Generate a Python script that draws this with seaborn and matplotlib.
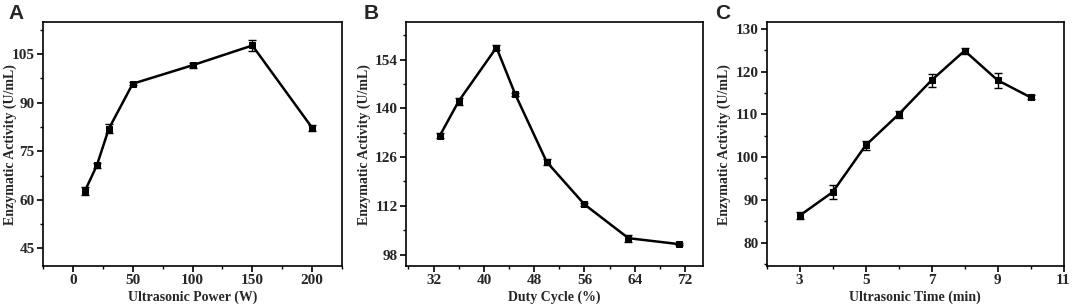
import numpy as np
import pandas as pd
import seaborn as sns
import matplotlib.pyplot as plt
from matplotlib.ticker import MultipleLocator, AutoMinorLocator

# panel A: ultrasonic power
power = [10, 20, 30, 50, 100, 150, 200]
power_act = [62.7, 70.6, 81.9, 95.8, 101.5, 107.6, 82.2]
power_err = [1.2, 0.7, 1.4, 0.5, 0.7, 1.6, 1.0]

# panel B: duty cycle
duty = [33, 36, 42, 45, 50, 56, 63, 71]
duty_act = [132.2, 142.1, 157.5, 144.0, 124.6, 112.4, 102.7, 101.0]
duty_err = [0.6, 1.0, 0.6, 0.5, 1.0, 0.4, 1.0, 0.4]

# panel C: ultrasonic time
time_min = [3, 4, 5, 6, 7, 8, 9, 10]
time_act = [86.3, 91.8, 102.75, 110.0, 118.0, 124.9, 118.0, 114.0]
time_err = [0.8, 1.7, 1.0, 0.8, 1.5, 0.7, 1.8, 0.5]

sns.set_style('ticks')
plt.rcParams['font.family'] = ['Liberation Serif', 'DejaVu Serif']
plt.rcParams['font.weight'] = 'bold'
plt.rcParams['axes.labelweight'] = 'bold'

W, H = 1072, 306
fig = plt.figure(figsize=(W / 100, H / 100), dpi=100)

panels = [
    dict(x=power, y=power_act, e=power_err, xlabel='Ultrasonic Power (W)', letter='A',
         pos=[0.0401, 0.1307, 0.279, 0.797], xlim=(-25, 225), ylim=(39.6, 114.8),
         xmaj=50, ymaj=15, xticks=None, ylab_px=17, let_px=8),
    dict(x=duty, y=duty_act, e=duty_err, xlabel='Duty Cycle (%)', letter='B',
         pos=[0.3787, 0.1307, 0.2773, 0.797], xlim=(27.6, 74.9), ylim=(94.7, 164.8),
         xmaj=8, ymaj=14, xticks=[32, 40, 48, 56, 64, 72], ylab_px=371, let_px=364),
    dict(x=time_min, y=time_act, e=time_err, xlabel='Ultrasonic Time (min)', letter='C',
         pos=[0.7152, 0.1307, 0.2769, 0.797], xlim=(2, 11), ylim=(74.5, 131.6),
         xmaj=2, ymaj=10, xticks=[3, 5, 7, 9, 11], ylab_px=731, let_px=715),
]

for p in panels:
    ax = fig.add_axes(p['pos'])
    df = pd.DataFrame({'x': p['x'], 'y': p['y']})
    ax.errorbar(p['x'], p['y'], yerr=p['e'], fmt='none', ecolor='black',
                elinewidth=1.0, capsize=3, capthick=1.0, zorder=2)
    sns.lineplot(data=df, x='x', y='y', ax=ax, color='black', linewidth=1.8,
                 marker='s', markersize=4.5, markeredgecolor='black', zorder=3)
    ax.set_xlim(p['xlim'])
    ax.set_ylim(p['ylim'])
    if p['xticks'] is not None:
        ax.set_xticks(p['xticks'])
    else:
        ax.xaxis.set_major_locator(MultipleLocator(p['xmaj']))
    ax.yaxis.set_major_locator(MultipleLocator(p['ymaj']))
    ax.xaxis.set_minor_locator(AutoMinorLocator(2))
    ax.yaxis.set_minor_locator(AutoMinorLocator(2))
    ax.tick_params(which='major', direction='out', length=4, width=1.2,
                   labelsize=11, color='black', pad=2)
    ax.tick_params(which='minor', direction='out', length=2.5, width=1.0, color='black')
    ax.tick_params(top=False, right=False, which='both')
    for s in ax.spines.values():
        s.set_visible(True)
        s.set_linewidth(1.2)
        s.set_color('black')
    ax.set_xlabel(p['xlabel'], fontsize=10, fontweight='bold', labelpad=2)
    ax.set_ylabel('Enzymatic Activity (U/mL)', fontsize=10, fontweight='bold')
    # put the y label where the reference has it (right edge in pixels)
    ax_w = p['pos'][2] * W
    ax.yaxis.set_label_coords((p['ylab_px'] - p['pos'][0] * W) / ax_w, 0.5)
    fig.text(p['let_px'] / W, 0.955, p['letter'], fontsize=15, fontweight='bold',
             family='Liberation Sans', va='center', ha='left')

fig.savefig('out.png', dpi=100)
